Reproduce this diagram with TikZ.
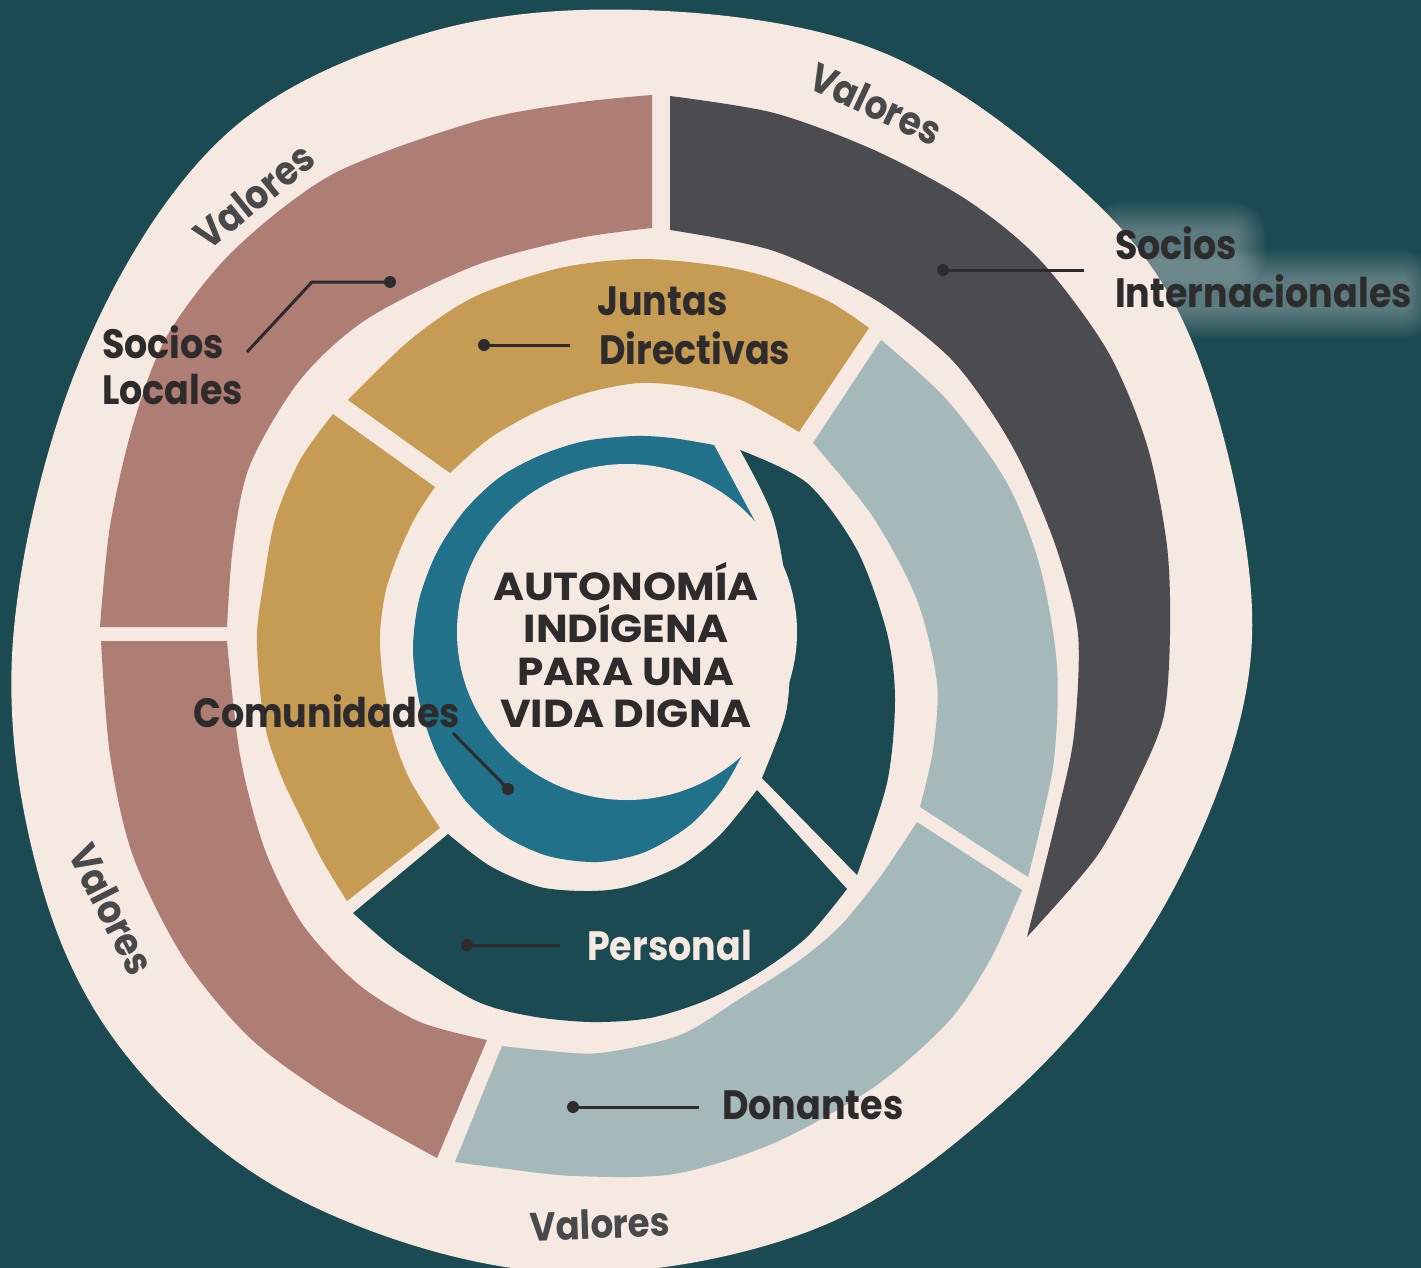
\documentclass[tikz,border=0pt]{standalone}
\usepackage{fontspec}
\newfontfamily\labfont{Poppins}[FakeStretch=0.89]
\newfontfamily\titfont{Poppins}[FakeStretch=1.08]
\definecolor{bg}{HTML}{1C4A52}
\definecolor{cream}{HTML}{F5E9E2}
\definecolor{mauve}{HTML}{AE7D73}
\definecolor{greyband}{HTML}{4B4C4F}
\definecolor{ochre}{HTML}{C69B54}
\definecolor{lightblue}{HTML}{A5B8BA}
\definecolor{tealc}{HTML}{21718A}
\definecolor{ink}{HTML}{2D2B2C}
\definecolor{valgrey}{HTML}{48494B}
\tikzset{
  lab/.style={font=\labfont\bfseries\fontsize{41}{48}\selectfont, text=ink, inner sep=0pt, anchor=base west},
  val/.style={font=\labfont\bfseries\fontsize{40}{48}\selectfont, text=valgrey, inner sep=0pt, anchor=center},
  tit/.style={font=\titfont\bfseries\fontsize{39}{44}\selectfont, text=ink, inner sep=0pt, anchor=base},
  leader/.style={draw=ink, line width=3pt},
  dotmark/.style={fill=ink}
}
\begin{document}
\begin{tikzpicture}[x=1pt,y=-1pt]
\useasboundingbox (0,0) rectangle (1421,1268);
\clip (0,0) rectangle (1421,1268);
\fill[bg] (0,0) rectangle (1421,1268);
% glow behind Socios Internacionales
\foreach \i in {0,...,14}{
  \fill[white,opacity=0.024,rounded corners={(6+2*\i)*1pt}] ({1116-2*\i},{230-2*\i}) rectangle ({1238+2*\i},{262+2*\i});
  \fill[white,opacity=0.024,rounded corners={(6+2*\i)*1pt}] ({1116-2*\i},{278-2*\i}) rectangle ({1408+2*\i},{310+2*\i});
}
% cream blob
\fill[cream] plot[smooth cycle, tension=0.6] coordinates {(13,640) (40,880) (130,1060) (300,1200) (550,1272) (807,1232) (1000,1105) (1150,930) (1240,720) (1245,540) (1180,315) (1060,170) (874,49) (641,10) (420,35) (220,140) (80,360)};
% mauve upper
\fill[mauve] plot[smooth] coordinates {(652,95) (574,103) (474,122) (333,174) (233,251) (167,336) (133,425) (110,526) (100,627)}
  -- plot[smooth] coordinates {(227,627) (233,546) (250,465) (300,380) (367,319) (474,266) (574,239) (652,228)} -- cycle;
% mauve lower
\fill[mauve] plot[smooth] coordinates {(101,641) (110,755) (133,856) (183,957) (250,1038) (333,1099) (437,1158)}
  -- plot[smooth] coordinates {(487,1040) (420,1022) (358,984) (303,925) (265,850) (240,755) (227,641)} -- cycle;
% grey band
\fill[greyband] plot[smooth] coordinates {(670,96) (774,113) (874,150) (967,200) (1040,260) (1107,350) (1147,445) (1167,546) (1170,634) (1164,715) (1140,776) (1097,856) (1027,937)}
  -- plot[smooth] coordinates {(1027,937) (1057,816) (1074,735) (1078,634) (1057,550) (1023,467) (990,410) (947,355) (874,299) (774,251) (670,230)} -- cycle;
% light blue right
\fill[lightblue] plot[smooth] coordinates {(881,340) (947,400) (1007,483) (1040,567) (1057,667) (1053,767) (1028,877)}
  -- plot[smooth] coordinates {(920,807) (933,750) (937,683) (917,600) (873,517) (813,443)} -- cycle;
% Donantes
\fill[lightblue] plot[smooth] coordinates {(1022,890) (990,960) (948,1022) (874,1087) (774,1143) (674,1174) (574,1176) (500,1168) (455,1162)}
  -- plot[smooth] coordinates {(502,1046) (540,1050) (600,1053) (680,1035) (741,998) (800,960) (841,925) (880,877) (917,822)} -- cycle;
% Juntas
\fill[ochre] plot[smooth] coordinates {(348,400) (410,340) (474,297) (560,268) (641,259) (720,266) (774,279) (830,302) (869,328)}
  -- plot[smooth] coordinates {(799,432) (741,400) (690,387) (640,383) (590,392) (540,410) (490,438) (450,473)} -- cycle;
% Comunidades
\fill[ochre] plot[smooth] coordinates {(333,414) (300,460) (275,520) (263,586) (257,634) (260,690) (267,735) (282,778) (300,816) (322,860) (347,901)}
  -- plot[smooth] coordinates {(440,828) (410,780) (393,735) (383,680) (380,634) (386,590) (400,550) (416,516) (435,487)} -- cycle;
% Personal bottom
\fill[bg] plot[smooth] coordinates {(353,913) (400,953) (474,1000) (530,1016) (591,1022) (650,1018) (707,1000) (760,972) (807,937) (847,889)}
  -- plot[smooth] coordinates {(757,790) (720,835) (680,866) (630,886) (591,891) (540,887) (490,866) (448,834)} -- cycle;
% Personal right
\fill[bg] plot[smooth] coordinates {(740,450) (807,483) (857,550) (887,633) (895,700) (887,783) (857,875)}
  -- plot[smooth] coordinates {(762,778) (785,717) (790,667) (788,600) (773,517) (740,450)} -- cycle;
% teal C
\fill[tealc] (764,538) -- plot[smooth] coordinates {(714,445) (672,438) (634,436) (585,441) (541,455) (500,477) (465,510) (437,552) (419,600) (413,650) (420,705) (437,755) (465,800) (503,835) (548,856) (598,862) (645,852) (690,825) (722,790) (741,757)} -- cycle;
% central disc
\fill[cream] (627,632) ellipse [x radius=170, y radius=168];
% title
\node[tit] (t1) at (626,600) {AUTONOMÍA};
\node[tit] (t2) at (626,642) {INDÍGENA};
\node[tit] (t3) at (626,685) {PARA UNA};
\node[tit] (t4) at (626,727) {VIDA DIGNA};
% labels
\node[lab] (sl1) at (102,358) {Socios};
\node[lab] (sl2) at (102,404) {Locales};
\node[lab] (jd1) at (597,315) {Juntas};
\node[lab] (jd2) at (599,364) {Directivas};
\node[lab] (si1) at (1115,259) {Socios};
\node[lab] (si2) at (1115,307) {Internacionales};
\node[lab] (com) at (193,727) {Comunidades};
\node[lab, text=cream] (per) at (587,960) {Personal};
\node[lab] (don) at (722,1119) {Donantes};
% valores
\node[val, rotate=39] (v1) at (254,196) {Valores};
\node[val, rotate=-25] (v2) at (876,104) {Valores};
\node[val, rotate=-63] (v3) at (112,909) {Valores};
\node[val, rotate=2] (v4) at (600,1224) {Valores};
% leaders
\coordinate (slA) at (390,282); \coordinate (slB) at (312,282); \coordinate (slC) at (247,352);
\draw[leader] (slC) -- (slB) -- (slA); \fill[dotmark] (slA) circle[radius=6];
\coordinate (jdA) at (484,345); \coordinate (jdB) at (570,345);
\draw[leader] (jdA) -- (jdB); \fill[dotmark] (jdA) circle[radius=6];
\coordinate (siA) at (943,270); \coordinate (siB) at (1084,270);
\draw[leader] (siA) -- (siB); \fill[dotmark] (siA) circle[radius=6];
\coordinate (coA) at (508,789); \coordinate (coB) at (453,733);
\draw[leader] (coA) -- (coB); \fill[dotmark] (coA) circle[radius=6];
\coordinate (peA) at (467,945); \coordinate (peB) at (560,945);
\draw[leader] (peA) -- (peB); \fill[dotmark] (peA) circle[radius=6];
\coordinate (doA) at (573,1107); \coordinate (doB) at (699,1107);
\draw[leader] (doA) -- (doB); \fill[dotmark] (doA) circle[radius=6];
\end{tikzpicture}
\end{document}
